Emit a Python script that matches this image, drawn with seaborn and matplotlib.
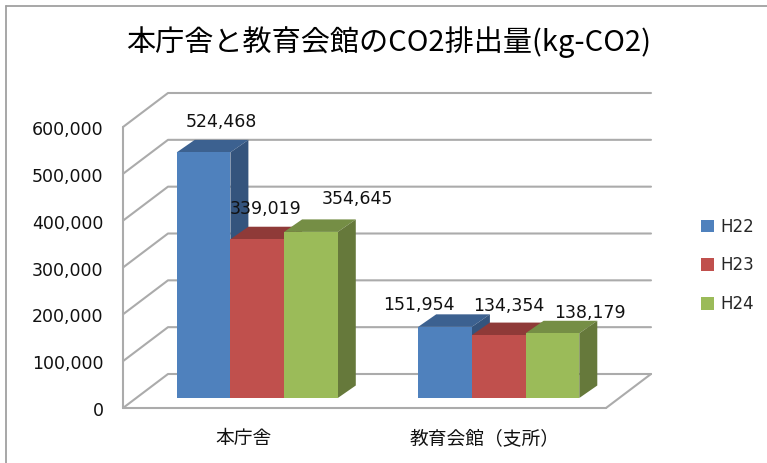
import matplotlib
matplotlib.use('Agg')
import matplotlib.pyplot as plt
import pandas as pd
import seaborn as sns
from matplotlib.lines import Line2D
from matplotlib.patches import Polygon
from matplotlib.transforms import ScaledTranslation

# データ
categories = ['本庁舎', '教育会館（支所）']
series_names = ['H22', 'H23', 'H24']
h22 = [524468, 151954]
h23 = [339019, 134354]
h24 = [354645, 138179]
y_ticks = [0, 100000, 200000, 300000, 400000, 500000, 600000]

# 色 (前面, 上面, 側面)
front_colors = ['#4F81BD', '#C0504D', '#9BBB59']
top_colors = ['#3C6190', '#8F3A38', '#758E45']
side_colors = ['#34547D', '#7C3230', '#66793B']
# ラベルの位置調整 (棒の上端中央からのピクセル)
label_shift = {'H22': [(18, -30), (-26, -22)],
               'H23': [(8, -30), (10, -29)],
               'H24': [(46, -33), (37, -20)]}

sns.set_theme(style='white')
plt.rcParams['font.family'] = ['Noto Sans CJK JP', 'DejaVu Sans']

df = pd.DataFrame({
    'category': categories * 3,
    'series': [s for s in series_names for _ in categories],
    'value': h22 + h23 + h24,
})

W, H = 767, 463
fig = plt.figure(figsize=(W / 100, H / 100), dpi=100)
ax = fig.add_axes([136.5 / W, (H - 398) / H, 483 / W, 281 / H])
ax.patch.set_alpha(0)

sns.barplot(data=df, x='category', y='value', hue='series', hue_order=series_names,
            palette=front_colors, width=0.667, gap=0, saturation=1, errorbar=None,
            ax=ax, legend=False)
ax.set_xlim(-0.5, 1.5)
ax.set_ylim(0, 600000)
ax.set_yticks(y_ticks)
ax.set_yticklabels([f'{v:,}' for v in y_ticks], fontsize=12.5, family='DejaVu Sans', color='#111111')
ax.set_xlabel('')
ax.set_ylabel('')
ax.tick_params(length=0, pad=0)
sns.despine(ax=ax, left=True, bottom=True)

# ピクセル -> データ単位
ux = 2 / 483
uy = 600000 / 281

# 壁と床
xl, xr = ax.get_xlim()
front = (-13.5 * ux, -10 * uy)
back = (31.5 * ux, 24 * uy)
grid_kw = dict(color='#ABABAB', lw=1.5, clip_on=False, zorder=1, solid_capstyle='round')
for v in y_ticks:
    ax.plot([xl + front[0], xl + back[0], xr + back[0]],
            [v + front[1], v + back[1], v + back[1]], **grid_kw)
ax.plot([xr + front[0], xr + back[0]], [front[1], back[1]], **grid_kw)
ax.plot([xl + front[0], xl + front[0]], [600000 + front[1], front[1]], **grid_kw)
ax.plot([xl + front[0], xr + front[0]], [front[1], front[1]], **grid_kw)

# 棒の奥行き
dx = 18 * ux
dy = 12.5 * uy
for i, (name, container) in enumerate(zip(series_names, ax.containers)):
    for j, bar in enumerate(container):
        x0, x1 = bar.get_x(), bar.get_x() + bar.get_width()
        v = bar.get_height()
        bar.set_zorder(4 + 2 * i)
        bar.set_linewidth(0)
        ax.add_patch(Polygon([(x0, v), (x0 + dx, v + dy), (x1 + dx, v + dy), (x1, v)],
                             facecolor=top_colors[i], lw=0, zorder=3 + 2 * i, clip_on=False))
        ax.add_patch(Polygon([(x1, 0), (x1 + dx, dy), (x1 + dx, v + dy), (x1, v)],
                             facecolor=side_colors[i], lw=0, zorder=3 + 2 * i, clip_on=False))
        sx, sy = label_shift[name][j]
        ax.annotate(f'{v:,.0f}', ((x0 + x1) / 2, v), xytext=(sx * 0.72, -sy * 0.72),
                    textcoords='offset points', ha='center', va='center', fontsize=12.5,
                    family='DejaVu Sans', color='#111111', zorder=20, annotation_clip=False)

# 目盛ラベルを手前の面にずらす
shift_y = ScaledTranslation(-33 / 100, -11 / 100, fig.dpi_scale_trans)
for lab in ax.get_yticklabels():
    lab.set_transform(lab.get_transform() + shift_y)
shift_x = ScaledTranslation(-14 / 100, -30 / 100, fig.dpi_scale_trans)
ax.set_xticks(range(len(categories)))
ax.set_xticklabels(categories, fontsize=13.5, color='#111111')
for lab in ax.get_xticklabels():
    lab.set_transform(lab.get_transform() + shift_x)

# 凡例
handles = [Polygon([(0, 0)], facecolor=c, lw=0) for c in front_colors]
ax.legend(handles, series_names, loc='center left', frameon=False,
          bbox_to_anchor=(686 / W, (H - 265.5) / H), bbox_transform=fig.transFigure,
          handlelength=0.78, handleheight=0.78, handletextpad=0.36, labelspacing=1.24,
          prop={'size': 12, 'family': 'DejaVu Sans'})

fig.text(389 / W, (H - 42) / H, '本庁舎と教育会館のCO2排出量(kg-CO2)', ha='center', va='center',
         fontsize=21, color='#000000')

# グラフエリアの枠
frame_kw = dict(color='#A0A0A0', lw=1.3, transform=fig.transFigure)
fig.add_artist(Line2D([6 / W, 6 / W], [0, (H - 6) / H], **frame_kw))
fig.add_artist(Line2D([6 / W, 1], [(H - 6) / H, (H - 6) / H], **frame_kw))

fig.savefig('out.png', dpi=100)
